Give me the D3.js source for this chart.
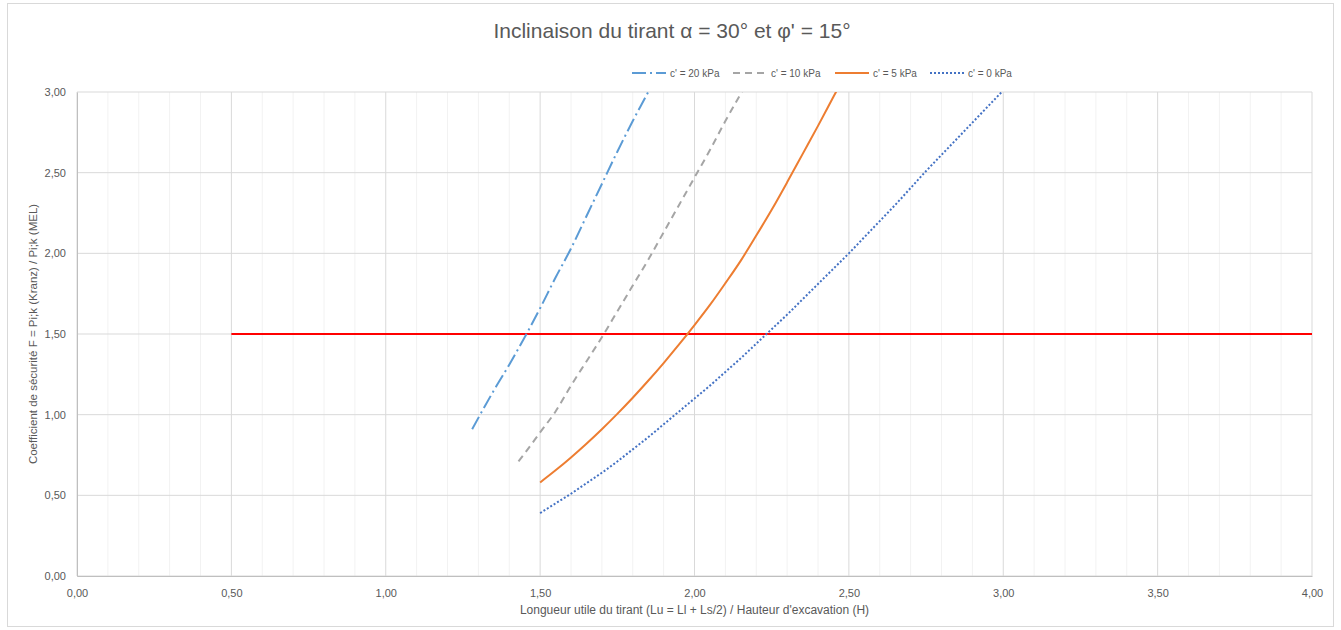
<!DOCTYPE html>
<html>
<head>
<meta charset="utf-8">
<script src="https://cdn.jsdelivr.net/npm/d3@7"></script>
<style>
  body { margin: 0; background: #fff; }
  text { font-family: "Liberation Sans", Arial, sans-serif; fill: #595959; }
</style>
</head>
<body>
<div id="chart"></div>
<script>
// values
const seriesNames = ["c' = 20 kPa", "c' = 10 kPa", "c' = 5 kPa", "c' = 0 kPa"];

const c20x = [1.28, 1.30, 1.35, 1.40, 1.45, 1.50, 1.55, 1.60, 1.65, 1.70, 1.75, 1.80, 1.85, 1.90];
const c20y = [0.91, 0.98, 1.15, 1.31, 1.48, 1.66, 1.85, 2.03, 2.23, 2.43, 2.63, 2.82, 3.00, 3.19];

const c10x = [1.43, 1.45, 1.50, 1.55, 1.60, 1.65, 1.70, 1.75, 1.80, 1.85, 1.90, 1.95, 2.00, 2.05, 2.10, 2.15, 2.20];
const c10y = [0.71, 0.76, 0.89, 1.02, 1.18, 1.33, 1.48, 1.64, 1.80, 1.96, 2.13, 2.30, 2.47, 2.64, 2.82, 2.99, 3.16];

const c5x = [1.50, 1.55, 1.60, 1.65, 1.70, 1.75, 1.80, 1.85, 1.90, 1.95, 2.00, 2.05, 2.10, 2.15, 2.20, 2.25, 2.30, 2.35, 2.40, 2.45, 2.50];
const c5y = [0.58, 0.655, 0.735, 0.82, 0.91, 1.005, 1.105, 1.21, 1.32, 1.435, 1.555, 1.68, 1.815, 1.955, 2.11, 2.27, 2.44, 2.615, 2.79, 2.97, 3.15];

const c0x = [1.50, 1.55, 1.60, 1.65, 1.70, 1.75, 1.80, 1.85, 1.90, 1.95, 2.00, 2.05, 2.10, 2.15, 2.20, 2.25, 2.30, 2.35, 2.40, 2.45, 2.50, 2.55, 2.60, 2.65, 2.70, 2.75, 2.80, 2.85, 2.90, 2.95, 3.00, 3.05];
const c0y = [0.39, 0.45, 0.51, 0.575, 0.64, 0.71, 0.785, 0.86, 0.94, 1.02, 1.10, 1.18, 1.265, 1.35, 1.44, 1.53, 1.62, 1.715, 1.81, 1.905, 2.00, 2.10, 2.20, 2.30, 2.405, 2.51, 2.61, 2.71, 2.81, 2.91, 3.01, 3.11];

// target line F = 1.5
const targetX = [0.5, 4.0];
const targetY = [1.5, 1.5];

const xTicks = [0, 0.5, 1, 1.5, 2, 2.5, 3, 3.5, 4];
const yTicks = [0, 0.5, 1, 1.5, 2, 2.5, 3];

const width = 1341, height = 630;
const margin = {left: 77, right: 29, top: 92, bottom: 54};

const svg = d3.select("#chart").append("svg")
    .attr("width", width).attr("height", height);

// chart area frame
svg.append("rect")
    .attr("x", 7.5).attr("y", 3.5)
    .attr("width", 1326).attr("height", 623)
    .attr("fill", "#fff").attr("stroke", "#D9D9D9");

const x = d3.scaleLinear().domain([0, 4]).range([margin.left, width - margin.right]);
const y = d3.scaleLinear().domain([0, 3]).range([height - margin.bottom, margin.top]);

const fr = d3.formatLocale({decimal: ",", thousands: " ", grouping: [3], currency: ["", ""]});
const fmt = fr.format(".2f");

// minor vertical grid
svg.append("g")
    .selectAll("line")
    .data(d3.range(0, 41).map(i => i / 10).filter(v => Math.round(v * 10) % 5 !== 0))
    .enter().append("line")
    .attr("x1", d => x(d)).attr("x2", d => x(d))
    .attr("y1", y(0)).attr("y2", y(3))
    .attr("stroke", "#F2F2F2").attr("stroke-width", 1);

// major grid
svg.append("g")
    .selectAll("line")
    .data(xTicks)
    .enter().append("line")
    .attr("x1", d => x(d)).attr("x2", d => x(d))
    .attr("y1", y(0)).attr("y2", y(3))
    .attr("stroke", "#D9D9D9").attr("stroke-width", 1);

svg.append("g")
    .selectAll("line")
    .data(yTicks)
    .enter().append("line")
    .attr("x1", x(0)).attr("x2", x(4))
    .attr("y1", d => y(d)).attr("y2", d => y(d))
    .attr("stroke", "#D9D9D9").attr("stroke-width", 1);

// axes
const xAxis = svg.append("g")
    .attr("transform", `translate(0,${y(0)})`)
    .call(d3.axisBottom(x).tickValues(xTicks).tickFormat(fmt).tickSize(0).tickPadding(13));
const yAxis = svg.append("g")
    .attr("transform", `translate(${x(0)},0)`)
    .call(d3.axisLeft(y).tickValues(yTicks).tickFormat(fmt).tickSize(0).tickPadding(11));
[xAxis, yAxis].forEach(a => {
    a.select(".domain").attr("stroke", "#BFBFBF");
    a.selectAll("text").attr("font-size", 11).attr("fill", "#595959")
        .attr("font-family", "Liberation Sans, Arial, sans-serif");
});

// clip
svg.append("defs").append("clipPath").attr("id", "plot")
    .append("rect")
    .attr("x", x(0)).attr("y", y(3))
    .attr("width", x(4) - x(0)).attr("height", y(0) - y(3));

const line = d3.line().x(d => x(d[0])).y(d => y(d[1])).curve(d3.curveMonotoneX);
const zip = (xs, ys) => xs.map((v, i) => [v, ys[i]]);

const series = [
    {name: seriesNames[0], data: zip(c20x, c20y), color: "#5B9BD5", dash: "14,4,2,4", w: 2},
    {name: seriesNames[1], data: zip(c10x, c10y), color: "#A5A5A5", dash: "7,5", w: 2},
    {name: seriesNames[2], data: zip(c5x, c5y), color: "#ED7D31", dash: null, w: 2},
    {name: seriesNames[3], data: zip(c0x, c0y), color: "#4472C4", dash: "2,2", w: 2}
];

const g = svg.append("g").attr("clip-path", "url(#plot)");

g.append("path")
    .datum(zip(targetX, targetY))
    .attr("d", d3.line().x(d => x(d[0])).y(d => y(d[1])))
    .attr("fill", "none").attr("stroke", "#FF0000").attr("stroke-width", 2);

g.selectAll(".series")
    .data(series)
    .enter().append("path")
    .attr("class", "series")
    .attr("d", d => line(d.data))
    .attr("fill", "none")
    .attr("stroke", d => d.color)
    .attr("stroke-width", d => d.w)
    .attr("stroke-dasharray", d => d.dash);

// legend
const legendX = [632, 733, 835, 930];
const leg = svg.append("g").selectAll("g")
    .data(series)
    .enter().append("g")
    .attr("transform", (d, i) => `translate(${legendX[i]},73)`);
leg.append("line")
    .attr("x1", 0).attr("x2", 34).attr("y1", 0).attr("y2", 0)
    .attr("stroke", d => d.color).attr("stroke-width", 2)
    .attr("stroke-dasharray", d => d.dash);
leg.append("text")
    .attr("x", 38)
    .attr("y", 3.5)
    .attr("font-size", 10)
    .text(d => d.name);

// title
svg.append("text")
    .attr("x", 672).attr("y", 38)
    .attr("text-anchor", "middle")
    .attr("font-size", 21)
    .text("Inclinaison du tirant α = 30° et φ' = 15°");

// axis titles
svg.append("text")
    .attr("x", (x(0) + x(4)) / 2).attr("y", 614)
    .attr("text-anchor", "middle")
    .attr("font-size", 12)
    .text("Longueur utile du tirant (Lu = Ll + Ls/2) / Hauteur d'excavation (H)");

svg.append("text")
    .attr("transform", `translate(37,${(y(0) + y(3)) / 2}) rotate(-90)`)
    .attr("text-anchor", "middle")
    .attr("font-size", 11.5)
    .text("Coefficient de sécurité F = Pi;k (Kranz) / Pi;k (MEL)");
</script>
</body>
</html>
